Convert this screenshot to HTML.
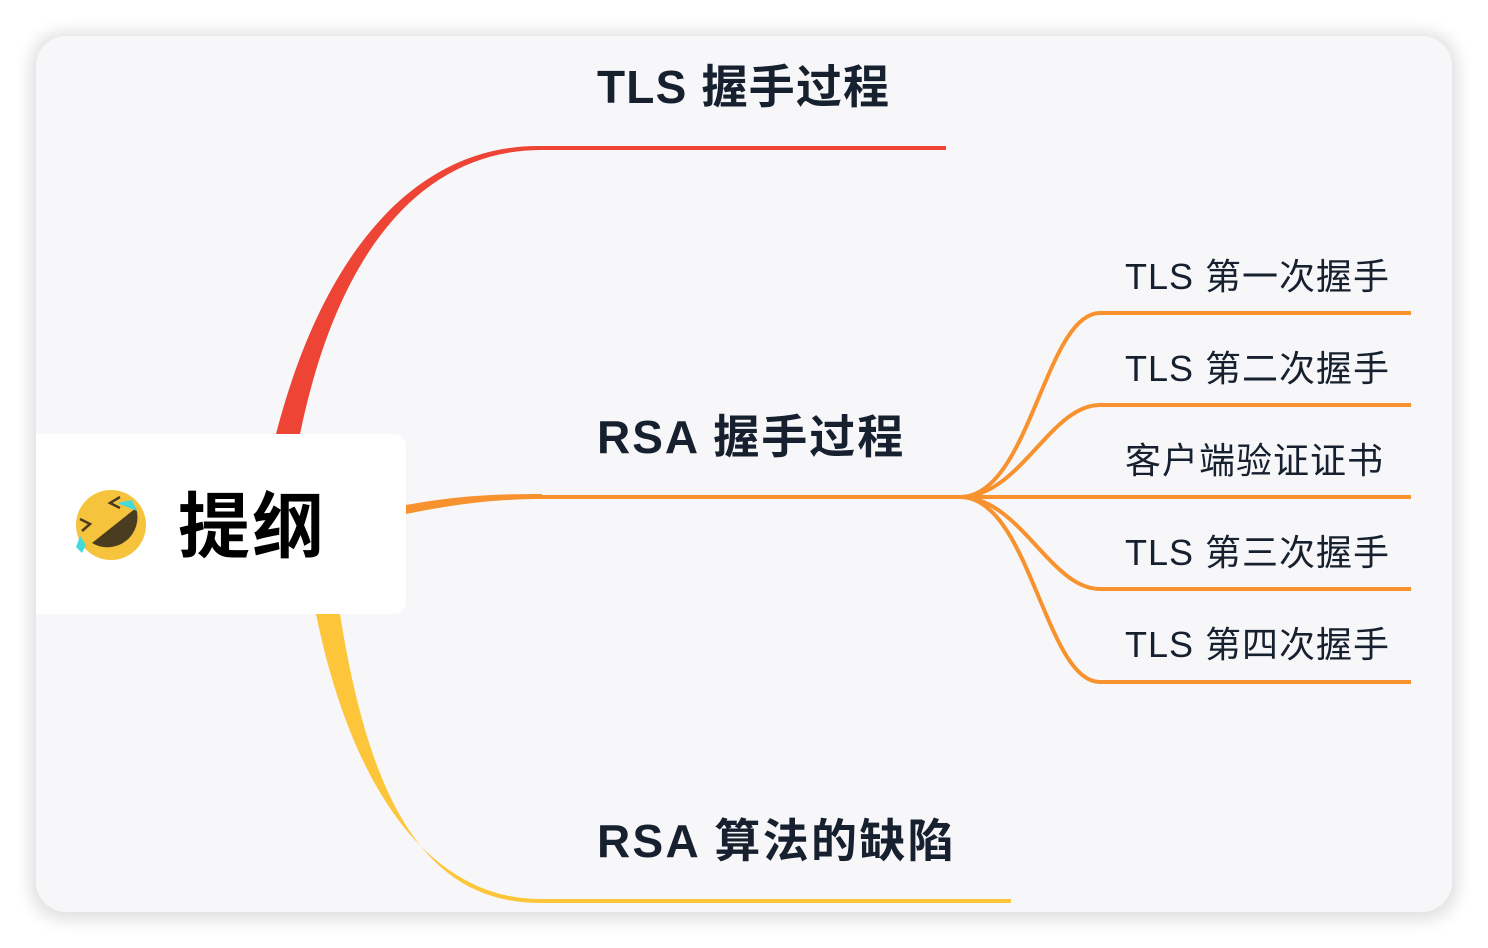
<!DOCTYPE html>
<html><head><meta charset="utf-8"><style>
html,body{margin:0;padding:0;background:#fff;width:1488px;height:948px;overflow:hidden}
svg text{font-family:"Liberation Sans","Noto Sans CJK SC",sans-serif}
</style></head><body>
<svg width="1488" height="948" viewBox="0 0 1488 948" xmlns="http://www.w3.org/2000/svg">
<defs><filter id="sh" x="-5%" y="-5%" width="110%" height="110%"><feGaussianBlur stdDeviation="8"/></filter></defs>
<rect x="30" y="32" width="1428" height="888" rx="34" fill="#000" opacity="0.12" filter="url(#sh)"/>
<rect x="36" y="36" width="1416" height="876" rx="30" fill="#f7f7f9"/>
<!-- red -->
<path d="M276,434 C325,245 420,145 540,146 L540,150 C422,151 338,250 300,434 Z" fill="#ee4436"/>
<line x1="538" y1="148" x2="946" y2="148" stroke="#ee4436" stroke-width="4"/>
<!-- yellow -->
<path d="M316,614 C352,790 430,899 540,899 L540,903 C420,903 368,790 340,614 Z" fill="#fdc63a"/>
<line x1="538" y1="901" x2="1011" y2="901" stroke="#fdc63a" stroke-width="4"/>
<!-- orange -->
<path d="M406,505 C460,495 500,494 542,494 L542,499 C500,499 460,503 406,514 Z" fill="#f7922f"/>
<line x1="540" y1="497" x2="1411" y2="497" stroke="#f7922f" stroke-width="4"/>
<g fill="none" stroke="#f7922f" stroke-width="4">
<path d="M960,497 C1030,497 1045,313 1100,313 L1411,313"/>
<path d="M960,497 C1020,497 1050,405 1100,405 L1411,405"/>
<path d="M960,497 C1020,497 1050,589 1100,589 L1411,589"/>
<path d="M960,497 C1030,497 1045,682 1100,682 L1411,682"/>
</g>
<!-- central node -->
<path d="M36,434 H394 A12,12 0 0 1 406,446 V602 A12,12 0 0 1 394,614 H36 Z" fill="#fff"/>
<circle cx="111" cy="525" r="35" fill="#f6c33c"/>
<path d="M92,543 L136,508 A30,30 0 0 1 92,543 Z" fill="#4a3c1e"/>
<path d="M120,497 L110,503 L120,508 M80,519 L90,524 L82,531" fill="none" stroke="#4a3c1e" stroke-width="2.5"/>
<path d="M117,503 L132,500 L137,511 Z" fill="#45d9dc"/>
<path d="M80,536 L86,545 L82,553 L76,547 Z" fill="#45d9dc"/>
<text x="178" y="552" font-size="72" font-weight="bold" fill="#000" letter-spacing="2">提纲</text>
<!-- main labels -->
<g fill="#16202f" font-weight="bold" font-size="46">
<text x="597" y="103" letter-spacing="1.2">TLS 握手过程</text>
<text x="597" y="453" letter-spacing="2">RSA 握手过程</text>
<text x="597" y="857" letter-spacing="2.3">RSA 算法的缺陷</text>
</g>
<g fill="#16202f" font-size="36" letter-spacing="1">
<text x="1125" y="289">TLS 第一次握手</text>
<text x="1125" y="381">TLS 第二次握手</text>
<text x="1125" y="473">客户端验证证书</text>
<text x="1125" y="565">TLS 第三次握手</text>
<text x="1125" y="657">TLS 第四次握手</text>
</g>
</svg>
</body></html>
